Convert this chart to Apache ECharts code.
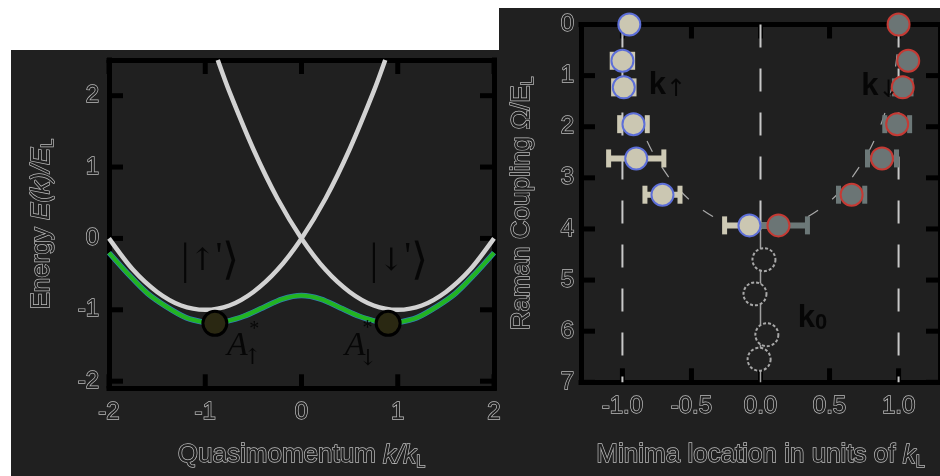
<!DOCTYPE html>
<html>
<head>
<meta charset="utf-8">
<script src="https://cdn.jsdelivr.net/npm/echarts@6/dist/echarts.min.js"></script>
<style>
  html, body { margin: 0; padding: 0; background: #fff; }
  #chart { width: 940px; height: 476px; }
</style>
</head>
<body>
<div id="chart"></div>
<script>
// ---------- Left panel: band structure E(k) ----------
// bare (uncoupled) parabolas for the two dressed spin states
const bareUpK   = [-2, -1.75, -1.5, -1.25, -1, -0.75, -0.5, -0.25, 0, 0.25, 0.5, 0.75, 0.87];
const bareUpE   = [0, -0.44, -0.75, -0.94, -1, -0.94, -0.75, -0.44, 0, 0.56, 1.25, 2.06, 2.5];
const bareDownK = [-0.87, -0.75, -0.5, -0.25, 0, 0.25, 0.5, 0.75, 1, 1.25, 1.5, 1.75, 2];
const bareDownE = [2.5, 2.06, 1.25, 0.56, 0, -0.44, -0.75, -0.94, -1, -0.94, -0.75, -0.44, 0];
// Raman-coupled lower band
const lowerK = [-2, -1.8, -1.6, -1.4, -1.2, -1, -0.9, -0.8, -0.6, -0.4, -0.2, 0, 0.2, 0.4, 0.6, 0.8, 0.9, 1, 1.2, 1.4, 1.6, 1.8, 2];
const lowerE = [-0.2, -0.5, -0.77, -0.96, -1.11, -1.18, -1.19, -1.17, -1.09, -0.97, -0.85, -0.8, -0.85, -0.97, -1.09, -1.17, -1.19, -1.18, -1.11, -0.96, -0.77, -0.5, -0.2];
// the two band minima
const minimaK = [-0.9, 0.9];
const minimaE = [-1.19, -1.19];
const energyTicks = [-2, -1, 0, 1, 2];
const momentumTicks = [-2, -1, 0, 1, 2];

// ---------- Right panel: minima location vs Raman coupling ----------
const couplingRows = [0, 0.71, 1.23, 1.95, 2.62, 3.33, 3.93];
const kUp       = [-0.95, -1.0, -0.99, -0.92, -0.9, -0.71, -0.08];
const kUpErr    = [0.02, 0.074, 0.074, 0.1, 0.2, 0.127, 0.18];
const kDown     = [1.0, 1.07, 1.03, 0.99, 0.88, 0.66, 0.13];
const kDownErr  = [0.02, 0.02, 0.06, 0.09, 0.105, 0.095, 0.21];
const kZeroPos  = [0.025, -0.04, 0.046, -0.01];
const kZeroRows = [4.6, 5.27, 6.07, 6.55];
// theoretical minima branches
const theoryOmega = [0, 0.5, 1, 1.5, 2, 2.5, 3, 3.25, 3.5, 3.75, 3.9, 4];
const theoryK     = [1, 0.992, 0.968, 0.927, 0.866, 0.781, 0.661, 0.583, 0.484, 0.348, 0.222, 0];
const singleOmega = [4, 7];
const singleK     = [0, 0];
const guideK    = [-1, 0, 1];
const guideEnd  = [7, 4, 7];
const locationTicks = [-1, -0.5, 0, 0.5, 1];
const couplingTicks = [0, 1, 2, 3, 4, 5, 6, 7];

// axis extents
const K_RANGE = [-2, 2], E_RANGE = [-2.1, 2.5];
const LOC_RANGE = [-1.3, 1.3], OMEGA_RANGE = [0, 7];

const pairs = (xs, ys) => xs.map((x, i) => [x, ys[i]]);

const BG = '#202020';
const SANS = 'Liberation Sans';
const SERIF = 'Liberation Serif';
// outlined text look used for tick labels and axis titles
const hollow = { color: BG, textBorderColor: '#bcbcbc', textBorderWidth: 1.4, fontFamily: SANS };

function titleRich() {
  return {
    r: Object.assign({ fontSize: 26, lineHeight: 30 }, hollow),
    i: Object.assign({ fontSize: 26, lineHeight: 30, fontStyle: 'italic' }, hollow),
    s: Object.assign({ fontSize: 16, lineHeight: 16, verticalAlign: 'bottom' }, hollow)
  };
}

// thick black frame made of the axis lines
function frameLine() {
  return { show: true, onZero: false, lineStyle: { color: '#000', width: 5, cap: 'square' } };
}
const TICK_LEN = 14;

function errorBars(color) {
  return function (params, api) {
    const x = api.value(0), y = api.value(1), e = api.value(2);
    const l = api.coord([x - e, y]);
    const r = api.coord([x + e, y]);
    const h = 9;
    return {
      type: 'group',
      children: [
        { type: 'line', shape: { x1: l[0], y1: l[1], x2: r[0], y2: r[1] }, style: { stroke: color, lineWidth: 6 } },
        { type: 'line', shape: { x1: l[0], y1: l[1] - h, x2: l[0], y2: l[1] + h }, style: { stroke: color, lineWidth: 5 } },
        { type: 'line', shape: { x1: r[0], y1: r[1] - h, x2: r[0], y2: r[1] + h }, style: { stroke: color, lineWidth: 5 } }
      ]
    };
  };
}

function textMark(xi, yi, x, y, text, labelStyle, align) {
  return {
    type: 'scatter', xAxisIndex: xi, yAxisIndex: yi, symbolSize: 0, silent: true, z: 10,
    data: [[x, y]],
    label: Object.assign({ show: true, position: 'inside', align: align || 'center', verticalAlign: 'middle', formatter: text }, labelStyle)
  };
}

// state labels, left panel
const ketRich = {
  b: { fontFamily: SERIF, fontSize: 44, color: '#000', lineHeight: 50 },
  a: { fontFamily: 'DejaVu Serif', fontSize: 31, color: '#000', lineHeight: 50 },
  p: { fontFamily: SERIF, fontSize: 38, color: '#000', lineHeight: 50, padding: [0, 0, 8, 0] }
};
const ketStyle = { rich: ketRich };
const aStyle = { fontFamily: SERIF, fontSize: 34, fontStyle: 'italic', color: '#000' };
const starStyle = { fontFamily: SERIF, fontSize: 20, color: '#000' };
const subArrowStyle = { fontFamily: 'DejaVu Serif', fontSize: 22, color: '#000' };
// momentum labels, right panel
const kRich = {
  k: { fontFamily: SANS, fontWeight: 'bold', fontSize: 31, color: '#000', lineHeight: 32 },
  s: { fontFamily: 'DejaVu Sans', fontSize: 24, color: '#000', lineHeight: 24, verticalAlign: 'bottom' },
  z: { fontFamily: SANS, fontWeight: 'bold', fontSize: 22, color: '#000', lineHeight: 22, verticalAlign: 'bottom' }
};

const chart = echarts.init(document.getElementById('chart'), null, { renderer: 'canvas' });

const paperRects = [
  { id: 'paper-top-left', type: 'rect', shape: { x: 0, y: 0, width: 499, height: 50 }, style: { fill: '#fff' }, silent: true },
  { id: 'paper-top-right', type: 'rect', shape: { x: 499, y: 0, width: 441, height: 8 }, style: { fill: '#fff' }, silent: true },
  { id: 'paper-left', type: 'rect', shape: { x: 0, y: 50, width: 11, height: 426 }, style: { fill: '#fff' }, silent: true }
];

const option = {
  animation: false,
  backgroundColor: BG,
  graphic: paperRects,
  grid: [
    { left: 109, top: 60, width: 385, height: 330, show: false },
    { left: 581, top: 24.5, width: 369, height: 366, show: false }
  ],
  xAxis: [
    {
      gridIndex: 0, type: 'value', min: K_RANGE[0], max: K_RANGE[1], interval: 1, position: 'bottom',
      axisLine: frameLine(), splitLine: { show: false }, axisTick: { show: false },
      axisLabel: Object.assign({ fontSize: 24, margin: 12, customValues: momentumTicks }, hollow),
      name: '{r|Quasimomentum }{i|k/k}{s|L}', nameLocation: 'middle', nameGap: 52,
      nameTextStyle: { rich: titleRich() }
    },
    {
      gridIndex: 0, type: 'value', min: K_RANGE[0], max: K_RANGE[1], interval: 1, position: 'top',
      axisLine: frameLine(), splitLine: { show: false }, axisTick: { show: false }, axisLabel: { show: false }
    },
    {
      gridIndex: 1, type: 'value', min: LOC_RANGE[0], max: LOC_RANGE[1], position: 'bottom',
      axisLine: frameLine(), splitLine: { show: false }, axisTick: { show: false },
      axisLabel: Object.assign({ fontSize: 24, margin: 12, customValues: locationTicks, formatter: v => v.toFixed(1) }, hollow),
      name: '{r|Minima location in units of }{i|k}{s|L}', nameLocation: 'middle', nameGap: 58,
      nameTextStyle: { rich: titleRich() }
    },
    {
      gridIndex: 1, type: 'value', min: LOC_RANGE[0], max: LOC_RANGE[1], position: 'top',
      axisLine: frameLine(), splitLine: { show: false }, axisTick: { show: false }, axisLabel: { show: false }
    }
  ],
  yAxis: [
    {
      gridIndex: 0, type: 'value', min: E_RANGE[0], max: E_RANGE[1], position: 'left',
      axisLine: frameLine(), splitLine: { show: false }, axisTick: { show: false },
      axisLabel: Object.assign({ fontSize: 24, margin: 10, customValues: energyTicks }, hollow),
      name: '{r|Energy }{i|E(k)/E}{s|L}', nameLocation: 'middle', nameGap: 52, nameRotate: 90,
      nameTextStyle: { rich: titleRich() }
    },
    {
      gridIndex: 0, type: 'value', min: E_RANGE[0], max: E_RANGE[1], position: 'right',
      axisLine: frameLine(), splitLine: { show: false }, axisTick: { show: false }, axisLabel: { show: false }
    },
    {
      gridIndex: 1, type: 'value', min: OMEGA_RANGE[0], max: OMEGA_RANGE[1], interval: 1, inverse: true, position: 'left',
      axisLine: frameLine(), splitLine: { show: false }, axisTick: { show: false },
      axisLabel: Object.assign({ fontSize: 24, margin: 7, customValues: couplingTicks }, hollow),
      name: '{r|Raman Coupling }{r|Ω/E}{s|L}', nameLocation: 'middle', nameGap: 44, nameRotate: 90,
      nameTextStyle: { rich: titleRich() }
    },
    {
      gridIndex: 1, type: 'value', min: OMEGA_RANGE[0], max: OMEGA_RANGE[1], interval: 1, inverse: true, position: 'right',
      axisLine: frameLine(), splitLine: { show: false }, axisTick: { show: false }, axisLabel: { show: false }
    }
  ],
  series: [
    // ----- left panel -----
    {
      type: 'line', xAxisIndex: 0, yAxisIndex: 0, data: pairs(bareUpK, bareUpE), smooth: 0.3,
      showSymbol: false, lineStyle: { color: '#d2d2d2', width: 4.5 }, z: 2
    },
    {
      type: 'line', xAxisIndex: 0, yAxisIndex: 0, data: pairs(bareDownK, bareDownE), smooth: 0.3,
      showSymbol: false, lineStyle: { color: '#d2d2d2', width: 4.5 }, z: 2
    },
    {
      type: 'line', xAxisIndex: 0, yAxisIndex: 0, data: pairs(lowerK, lowerE), smooth: 0.3,
      showSymbol: false, lineStyle: { color: '#2f7fb0', width: 5.5 }, z: 3
    },
    {
      type: 'line', xAxisIndex: 0, yAxisIndex: 0, data: pairs(lowerK, lowerE), smooth: 0.3,
      showSymbol: false, lineStyle: { color: '#22b422', width: 4 }, z: 4
    },
    {
      type: 'scatter', xAxisIndex: 0, yAxisIndex: 0, data: pairs(minimaK, minimaE), symbolSize: 24,
      itemStyle: { color: '#2a2812', borderColor: '#000', borderWidth: 3, opacity: 1 }, z: 5
    },
    textMark(0, 0, -0.95, -0.33, "{b||}{a|↑}{p|'}{b|⟩}", ketStyle),
    textMark(0, 0, 1.01, -0.33, "{b||}{a|↓}{p|'}{b|⟩}", ketStyle),
    textMark(0, 0, -0.665, -1.515, 'A', aStyle),
    textMark(0, 0, -0.49, -1.28, '*', starStyle),
    textMark(0, 0, -0.51, -1.68, '↑', subArrowStyle),
    textMark(0, 0, 0.556, -1.515, 'A', aStyle),
    textMark(0, 0, 0.685, -1.27, '*', starStyle),
    textMark(0, 0, 0.69, -1.69, '↓', subArrowStyle),

    // ----- right panel -----
    ...guideK.map((k, i) => ({
      type: 'line', xAxisIndex: 2, yAxisIndex: 2, data: [[k, 0], [k, guideEnd[i]]], showSymbol: false, silent: true,
      lineStyle: { color: '#c8c8c8', width: 2, type: [23, 21] }, z: 1
    })),
    {
      type: 'line', xAxisIndex: 2, yAxisIndex: 2, data: pairs(theoryK.map(v => -v), theoryOmega), smooth: 0.3,
      showSymbol: false, silent: true, lineStyle: { color: '#a8a8a8', width: 1.2, type: [12, 18] }, z: 2
    },
    {
      type: 'line', xAxisIndex: 2, yAxisIndex: 2, data: pairs(theoryK, theoryOmega), smooth: 0.3,
      showSymbol: false, silent: true, lineStyle: { color: '#a8a8a8', width: 1.2, type: [12, 18] }, z: 2
    },
    {
      type: 'line', xAxisIndex: 2, yAxisIndex: 2, data: pairs(singleK, singleOmega),
      showSymbol: false, silent: true, lineStyle: { color: '#a0a0a0', width: 1.5 }, z: 2
    },
    {
      type: 'custom', xAxisIndex: 2, yAxisIndex: 2, renderItem: errorBars('#cdc9b4'),
      data: kUp.map((k, i) => [k, couplingRows[i], kUpErr[i]]), encode: { x: 0, y: 1 }, z: 3
    },
    {
      type: 'scatter', xAxisIndex: 2, yAxisIndex: 2, data: pairs(kUp, couplingRows), symbolSize: 22,
      itemStyle: { color: '#cbc7b2', borderColor: '#5d6fd8', borderWidth: 2, opacity: 1 }, z: 9
    },
    {
      type: 'custom', xAxisIndex: 2, yAxisIndex: 2, renderItem: errorBars('#6c7878'),
      data: kDown.map((k, i) => [k, couplingRows[i], kDownErr[i]]), encode: { x: 0, y: 1 }, z: 9
    },
    {
      type: 'scatter', xAxisIndex: 2, yAxisIndex: 2, data: pairs(kDown, couplingRows), symbolSize: 22,
      itemStyle: { color: '#6b7575', borderColor: '#c53a34', borderWidth: 2, opacity: 1 }, z: 9
    },
    {
      type: 'scatter', xAxisIndex: 2, yAxisIndex: 2, data: pairs(kZeroPos, kZeroRows), symbolSize: 23,
      itemStyle: { color: BG, borderColor: '#a8a8a8', borderWidth: 2, borderType: [3, 2], opacity: 1 }, z: 4
    },
    textMark(2, 2, -0.81, 1.2, '{k|k}{s|↑}', { rich: kRich }, 'left'),
    textMark(2, 2, 0.73, 1.22, '{k|k}{s|↓}', { rich: kRich }, 'left'),
    textMark(2, 2, 0.27, 5.75, '{k|k}{z|0}', { rich: kRich }, 'left')
  ]
};

chart.setOption(option);

// inward frame ticks on all four sides, placed through each panel's axis scales;
// drawn beneath the series so markers sitting on the frame cover them
function panelTicks(finder, xVals, yVals, xRange, yRange, tag) {
  const out = [];
  const st = { stroke: '#000', lineWidth: 5 };
  xVals.forEach((v, i) => {
    const lo = chart.convertToPixel(finder, [v, yRange[0]]);
    const hi = chart.convertToPixel(finder, [v, yRange[1]]);
    const dir = lo[1] > hi[1] ? -1 : 1;
    out.push({ id: tag + 'xa' + i, type: 'line', z: 1, silent: true, style: st,
      shape: { x1: lo[0], y1: lo[1], x2: lo[0], y2: lo[1] + dir * TICK_LEN } });
    out.push({ id: tag + 'xb' + i, type: 'line', z: 1, silent: true, style: st,
      shape: { x1: hi[0], y1: hi[1], x2: hi[0], y2: hi[1] - dir * TICK_LEN } });
  });
  yVals.forEach((v, i) => {
    const lo = chart.convertToPixel(finder, [xRange[0], v]);
    const hi = chart.convertToPixel(finder, [xRange[1], v]);
    out.push({ id: tag + 'ya' + i, type: 'line', z: 1, silent: true, style: st,
      shape: { x1: lo[0], y1: lo[1], x2: lo[0] + TICK_LEN, y2: lo[1] } });
    out.push({ id: tag + 'yb' + i, type: 'line', z: 1, silent: true, style: st,
      shape: { x1: hi[0], y1: hi[1], x2: hi[0] - TICK_LEN, y2: hi[1] } });
  });
  return out;
}

const tickGraphics = []
  .concat(panelTicks({ xAxisIndex: 0, yAxisIndex: 0 }, momentumTicks, energyTicks, K_RANGE, E_RANGE, 'band'))
  .concat(panelTicks({ xAxisIndex: 2, yAxisIndex: 2 }, locationTicks, couplingTicks, LOC_RANGE, OMEGA_RANGE, 'minima'));

chart.setOption({ graphic: paperRects.concat(tickGraphics) });
</script>
</body>
</html>
